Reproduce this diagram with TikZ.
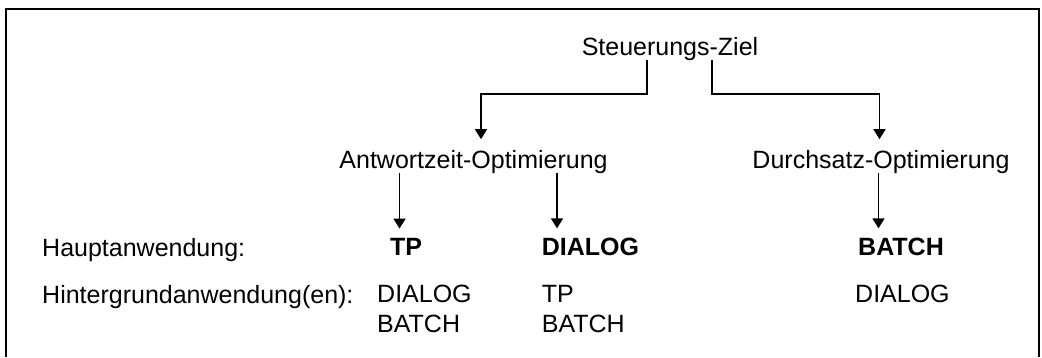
\documentclass[tikz,border=0pt]{standalone}
\usepackage{fontspec}
\setmainfont{Liberation Sans}
\usetikzlibrary{arrows.meta}
\begin{document}
\begin{tikzpicture}[x=1pt,y=-1pt,
  txt/.style={inner sep=0pt,font=\fontsize{25}{30}\selectfont},
  hd/.style={txt,font=\fontsize{25}{30}\selectfont\bfseries},
  frameline/.style={line width=2pt},
  arr/.style={line width=1.6pt,-{Triangle[width=12pt,length=10pt]}}]
\useasboundingbox (0,0) rectangle (1042,357);
% open frame: top, left and right sides
\draw[frameline] (6,357) -- (6,9) -- (1039,9) -- (1039,357);

% tree of goals
\node[txt,anchor=base] (goal) at (670,55) {Steuerungs-Ziel};
\node[txt,anchor=base] (resp) at (473.5,168) {Antwortzeit-Optimierung};
\node[txt,anchor=base] (thru) at (881,168) {Durchsatz-Optimierung};

% row labels
\node[txt,anchor=base west] (mainlbl) at (42,256) {Hauptanwendung:};
\node[txt,anchor=base west] (bglbl) at (42,303) {Hintergrundanwendung(en):};

% main applications
\node[hd,anchor=base west] (tp) at (390,255) {TP};
\node[hd,anchor=base west] (dialog) at (541.7,255) {DIALOG};
\node[hd,anchor=base west] (batch) at (858,255) {BATCH};

% background applications
\node[txt,anchor=base west] (bgtp) at (377,302) {DIALOG};
\node[txt,anchor=base west] (bgtpb) at (377,332) {BATCH};
\node[txt,anchor=base west] (bgdia) at (541.7,302) {TP};
\node[txt,anchor=base west] (bgdiab) at (541.7,332) {BATCH};
\node[txt,anchor=base west] (bgbat) at (855,302) {DIALOG};

% bends of the upper connectors
\coordinate (lbend) at (481,94);
\coordinate (rbend) at (879.5,94);

\draw[arr,shorten >=10.5pt] ([xshift=-23pt]goal.south) |- (lbend) -- (lbend |- resp.north);
\draw[arr,shorten >=10.5pt] ([xshift=41.7pt]goal.south) |- (rbend) -- (rbend |- thru.north);

\draw[arr,shorten >=9pt] ([xshift=-74pt]resp.south) -- ([xshift=-74pt]resp.south |- tp.north);
\draw[arr,shorten >=9pt] ([xshift=83.5pt]resp.south) -- ([xshift=83.5pt]resp.south |- dialog.north);
\draw[arr,shorten >=9pt] ([xshift=-2.5pt]thru.south) -- ([xshift=-2.5pt]thru.south |- batch.north);
\end{tikzpicture}
\end{document}
